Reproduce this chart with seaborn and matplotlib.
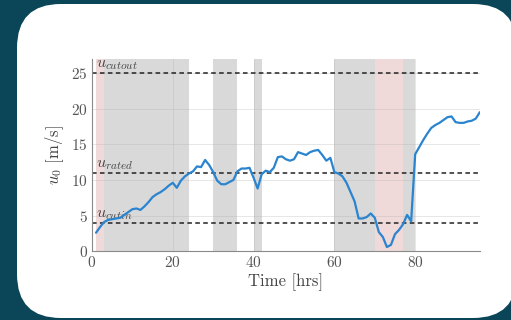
import matplotlib
matplotlib.use("Agg")
import matplotlib.pyplot as plt
import numpy as np
import pandas as pd
import seaborn as sns
from matplotlib.patches import FancyBboxPatch

# Hourly free-stream wind speed
hours = list(range(1, 97))
wind_speed = [
    2.6, 3.4, 4.1, 4.4, 4.5, 4.6, 4.7, 5.1, 5.5, 5.9,
    6.0, 5.8, 6.3, 6.9, 7.6, 8.0, 8.3, 8.7, 9.2, 9.6,
    8.9, 9.9, 10.5, 10.9, 11.2, 11.9, 11.8, 12.8, 12.1, 11.1,
    9.9, 9.4, 9.4, 9.7, 10.0, 11.2, 11.6, 11.6, 11.7, 10.3,
    8.8, 10.8, 11.3, 11.1, 11.7, 13.2, 13.3, 12.9, 12.7, 12.9,
    13.9, 13.7, 13.5, 13.9, 14.1, 14.2, 13.5, 12.7, 13.1, 11.1,
    10.9, 10.5, 9.6, 8.3, 7.0, 4.6, 4.6, 4.8, 5.3, 4.7,
    2.7, 2.0, 0.6, 0.9, 2.4, 3.0, 3.8, 5.1, 4.2, 13.6,
    14.6, 15.6, 16.5, 17.3, 17.7, 18.0, 18.4, 18.8, 18.9, 18.1,
    18.0, 18.0, 18.2, 18.3, 18.6, 19.5,
]

# Operating thresholds
threshold_names = [r"$u_{cutin}$", r"$u_{rated}$", r"$u_{cutout}$"]
threshold_values = [4, 11, 25]

# Shaded time windows (start, end) in hours
gray_spans = [(3, 24), (30, 36), (40, 42), (60, 70), (77, 80)]
red_spans = [(1, 3), (70, 77)]

x_ticks = [0, 20, 40, 60, 80]
y_ticks = [0, 5, 10, 15, 20, 25]

sns.set_theme(style="white")
plt.rcParams["font.family"] = ["cmr10", "DejaVu Serif"]
plt.rcParams["mathtext.fontset"] = "cm"
plt.rcParams["axes.formatter.use_mathtext"] = True
plt.rcParams["axes.unicode_minus"] = False

fig = plt.figure(figsize=(5.11, 3.2), dpi=100)
fig.patch.set_facecolor("#0b4658")

# Rounded white card behind the chart
bg = fig.add_axes([0, 0, 1, 1])
bg.set_xlim(0, 511)
bg.set_ylim(320, 0)
bg.set_axis_off()
bg.add_patch(FancyBboxPatch((17, 4), 500, 314,
                            boxstyle="round,pad=0,rounding_size=44",
                            facecolor="white", edgecolor="none"))

ax = fig.add_axes([0.180, 0.2147, 0.759, 0.602])
ax.set_facecolor("none")

for a, b in gray_spans:
    ax.axvspan(a, b, color="#d9d9d9", lw=0, zorder=0)
for a, b in red_spans:
    ax.axvspan(a, b, color="#f0d9d9", lw=0, zorder=0)

ax.set_xticks(x_ticks)
ax.set_yticks(y_ticks)
ax.grid(True, color="#b0b0b0", alpha=0.35, lw=0.6, zorder=0.5)
ax.set_axisbelow(True)

for name, val in zip(threshold_names, threshold_values):
    ax.axhline(val, color="#222222", lw=1.1, ls=(0, (3, 2.2)), zorder=2)
    ax.text(1.0, val + 0.15, name, color="#444444", fontsize=11.5,
            va="bottom", ha="left", zorder=3)

df = pd.DataFrame({"Time": hours, "u0": wind_speed})
sns.lineplot(data=df, x="Time", y="u0", ax=ax, color="#2a84cf", lw=1.6, zorder=4)

ax.set_xlim(0, 96)
ax.set_ylim(0, 27)
ax.set_xlabel("Time [hrs]", fontsize=12, color="#444444", labelpad=2)
ax.set_ylabel(r"$u_0$ [m/s]", fontsize=12, color="#444444", labelpad=4)
ax.tick_params(axis="both", labelsize=11, colors="#555555", direction="in",
               length=3, width=0.6, pad=3)
for side in ["top", "right"]:
    ax.spines[side].set_visible(False)
for side in ["left", "bottom"]:
    ax.spines[side].set_color("#8a8a8a")
    ax.spines[side].set_linewidth(0.8)

fig.savefig("out.png", dpi=100, facecolor=fig.get_facecolor())
